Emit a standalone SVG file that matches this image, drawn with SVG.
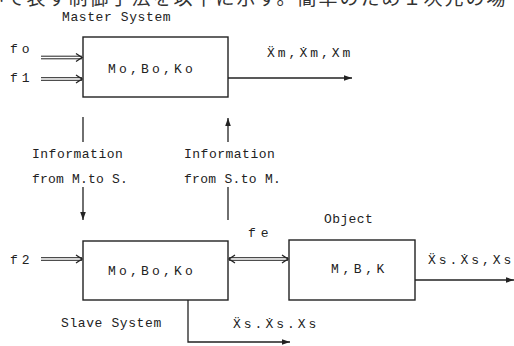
<svg xmlns="http://www.w3.org/2000/svg" width="514" height="346" viewBox="0 0 514 346">
<defs>
<style>
text{font-family:"Liberation Mono","DejaVu Sans Mono",monospace;font-size:13px;fill:#222;}
.jp{font-family:"Noto Sans CJK JP",sans-serif;font-size:19px;letter-spacing:2px;fill:#333;}
.box{fill:#fff;stroke:#222;stroke-width:1.4;}
.ln{fill:none;stroke:#222;stroke-width:1.3;}
.dbl{fill:none;stroke:#222;stroke-width:1;}
</style>
<marker id="ah" viewBox="0 0 10 10" refX="10" refY="5" markerWidth="8" markerHeight="8" markerUnits="userSpaceOnUse" orient="auto">
<path d="M0,1.5 L10,5 L0,8.5 Z" fill="#222"/>
</marker>
</defs>
<rect width="514" height="346" fill="#fff"/>
<text class="jp" x="-15" y="5">いて表す制御手法を以下に示す。簡単のため１次元の場</text>

<g id="master">
<rect class="box" x="83" y="37" width="145" height="60"/>
<text x="62" y="21" letter-spacing="0.6">Master System</text>
<text x="108" y="73" letter-spacing="3.2">Mo,Bo,Ko</text>
</g>

<g id="slave">
<rect class="box" x="83" y="241" width="145" height="59"/>
<text x="108" y="275" letter-spacing="3.2">Mo,Bo,Ko</text>
<text x="61" y="327" letter-spacing="0.6">Slave System</text>
</g>

<g id="object">
<rect class="box" x="289" y="240" width="126" height="60"/>
<text x="324" y="223" letter-spacing="0.4">Object</text>
<text x="331" y="273" letter-spacing="3.6">M,B,K</text>
</g>

<g id="labels">
<text x="10" y="53" letter-spacing="4">fo</text>
<text x="10" y="82" letter-spacing="4">f1</text>
<text x="10" y="264" letter-spacing="4">f2</text>
<text x="248" y="237" letter-spacing="5">fe</text>
<text x="32" y="158" letter-spacing="0.5">Information</text>
<text x="32" y="183" letter-spacing="0.2">from M.to S.</text>
<text x="184" y="158" letter-spacing="0.5">Information</text>
<text x="184" y="183" letter-spacing="0.3">from S.to M.</text>
<text x="267" y="57" letter-spacing="3">Ẍm,Ẋm,Xm</text>
<text x="233" y="328" letter-spacing="3">Ẍs.Ẋs.Xs</text>
<text x="428" y="264" letter-spacing="3">Ẍs.Ẋs,Xs</text>
</g>

<g id="connectors">
<!-- fo double arrow -->
<path class="dbl" d="M41,56.2 H82 M41,58.8 H82"/>
<path class="ln" d="M76,53.5 L82,57.5 L76,61.5"/>
<!-- f1 double arrow -->
<path class="dbl" d="M41,77.7 H82 M41,80.3 H82"/>
<path class="ln" d="M76,75 L82,79 L76,83"/>
<!-- f2 double arrow -->
<path class="dbl" d="M41,257.7 H82 M41,260.3 H82"/>
<path class="ln" d="M76,255 L82,259 L76,263"/>
<!-- fe bidirectional double arrow -->
<path class="dbl" d="M229,257.7 H288 M229,260.3 H288"/>
<path class="ln" d="M235,255 L229,259 L235,263"/>
<path class="ln" d="M282,255 L288,259 L282,263"/>
<!-- master output -->
<path class="ln" d="M228,78 H352" marker-end="url(#ah)"/>
<!-- M to S -->
<path class="ln" d="M83,117 V142"/>
<path class="ln" d="M83,187 V220" marker-end="url(#ah)"/>
<!-- S to M -->
<path class="ln" d="M228,142 V118" marker-end="url(#ah)"/>
<path class="ln" d="M228,187 V220"/>
<!-- slave output -->
<path class="ln" d="M188,300 V342 H290" marker-end="url(#ah)"/>
<!-- object output -->
<path class="ln" d="M415,280 H514" marker-end="url(#ah)"/>
</g>
</svg>
